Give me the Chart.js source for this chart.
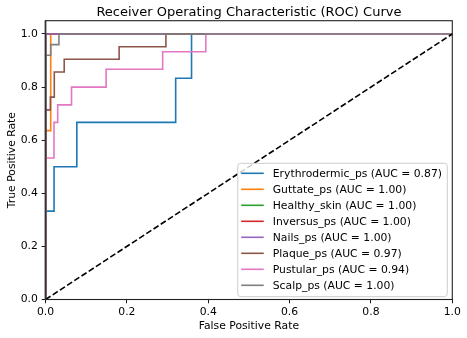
<!DOCTYPE html>
<html><head><meta charset="utf-8">
<script src="https://cdn.jsdelivr.net/npm/chart.js@4.4.0/dist/chart.umd.min.js"></script>
<style>html,body{margin:0;padding:0;background:#fff;}#wrap{width:467px;height:338px;}</style>
</head><body><div id="wrap"><canvas id="c" width="467" height="338"></canvas></div>
<script>
const classNames = ['Erythrodermic_ps','Guttate_ps','Healthy_skin','Inversus_ps','Nails_ps','Plaque_ps','Pustular_ps','Scalp_ps'];
const aucValues = [0.87, 1.00, 1.00, 1.00, 1.00, 0.97, 0.94, 1.00];
const seriesColors = ['#1f77b4','#ff7f0e','#2ca02c','#d62728','#9467bd','#8c564b','#e377c2','#7f7f7f'];

const fprErythrodermic = [0, 0, 0.021, 0.021, 0.077, 0.077, 0.32, 0.32, 0.359, 0.359, 1];
const tprErythrodermic = [0, 0.333, 0.333, 0.5, 0.5, 0.667, 0.667, 0.833, 0.833, 1, 1];
const fprGuttate = [0, 0, 0.0128, 0.0128, 1];
const tprGuttate = [0, 0.636, 0.636, 1, 1];
const fprHealthy = [0, 0, 1];
const tprHealthy = [0, 1, 1];
const fprInversus = [0, 0, 1];
const tprInversus = [0, 1, 1];
const fprNails = [0, 0, 1];
const tprNails = [0, 1, 1];
const fprPlaque = [0, 0, 0.012, 0.012, 0.0216, 0.0216, 0.046, 0.046, 0.181, 0.181, 0.296, 0.296, 1];
const tprPlaque = [0, 0.714, 0.714, 0.762, 0.762, 0.857, 0.857, 0.905, 0.905, 0.952, 0.952, 1, 1];
const fprPustular = [0, 0, 0.0209, 0.0209, 0.030, 0.030, 0.064, 0.064, 0.149, 0.149, 0.288, 0.288, 0.394, 0.394, 1];
const tprPustular = [0, 0.533, 0.533, 0.667, 0.667, 0.733, 0.733, 0.8, 0.8, 0.867, 0.867, 0.933, 0.933, 1, 1];
const fprScalp = [0, 0, 0.0128, 0.0128, 0.033, 0.033, 1];
const tprScalp = [0, 0.92, 0.92, 0.96, 0.96, 1, 1];
const chanceX = [0, 1];
const chanceY = [0, 1];

const xTicks = [0, 0.2, 0.4, 0.6, 0.8, 1.0];
const yTicks = [0, 0.2, 0.4, 0.6, 0.8, 1.0];

const allFpr = [fprErythrodermic, fprGuttate, fprHealthy, fprInversus, fprNails, fprPlaque, fprPustular, fprScalp];
const allTpr = [tprErythrodermic, tprGuttate, tprHealthy, tprInversus, tprNails, tprPlaque, tprPustular, tprScalp];

const FONT = "'DejaVu Sans', sans-serif";
const pts = (xs, ys) => xs.map((x, i) => ({x: x, y: ys[i]}));

const datasets = classNames.map((name, i) => ({
  label: name + ' (AUC = ' + aucValues[i].toFixed(2) + ')',
  data: pts(allFpr[i], allTpr[i]),
  borderColor: seriesColors[i],
  backgroundColor: seriesColors[i],
  borderWidth: 1.6,
  showLine: true,
  pointRadius: 0,
  fill: false,
  tension: 0,
  clip: 0,
  order: classNames.length - i
}));
datasets.push({
  label: 'chance',
  data: pts(chanceX, chanceY),
  borderColor: '#000',
  borderWidth: 1.6,
  borderDash: [6, 2.6],
  showLine: true,
  pointRadius: 0,
  fill: false,
  clip: 0,
  order: -1
});

const framePlugin = {
  id: 'frame',
  afterDatasetsDraw(chart) {
    const {ctx, chartArea: a} = chart;
    ctx.save();
    ctx.strokeStyle = '#222';
    ctx.lineWidth = 1.1;
    ctx.strokeRect(a.left, a.top, a.right - a.left, a.bottom - a.top);
    ctx.beginPath();
    ctx.lineWidth = 1.7;
    ctx.strokeStyle = '#333';
    ctx.moveTo(a.left, a.top);
    ctx.lineTo(a.left, a.bottom);
    ctx.stroke();
    ctx.restore();
  }
};

const titlePlugin = {
  id: 'mplTitle',
  afterDraw(chart) {
    const {ctx, chartArea: a} = chart;
    ctx.save();
    ctx.font = "13px " + FONT;
    ctx.fillStyle = '#000';
    ctx.textAlign = 'center';
    ctx.textBaseline = 'alphabetic';
    ctx.fillText('Receiver Operating Characteristic (ROC) Curve', (a.left + a.right) / 2, 16.3);
    ctx.restore();
  }
};

const legendPlugin = {
  id: 'mplLegend',
  afterDraw(chart) {
    const {ctx, chartArea: a} = chart;
    const items = chart.data.datasets.slice(0, classNames.length);
    ctx.save();
    ctx.font = "10.8px " + FONT;
    let maxW = 0;
    items.forEach(d => { maxW = Math.max(maxW, ctx.measureText(d.label).width); });
    const w = 35 + maxW + 5.3;
    const h = 133.4;
    const right = a.right - 5;
    const bottom = a.bottom - 2.8;
    const left = right - w, top = bottom - h;
    ctx.beginPath();
    ctx.roundRect(left, top, w, h, 3);
    ctx.fillStyle = 'rgba(255,255,255,0.8)';
    ctx.fill();
    ctx.strokeStyle = '#cccccc';
    ctx.lineWidth = 1;
    ctx.stroke();
    items.forEach((d, i) => {
      const cy = top + 10 + i * 16;
      ctx.beginPath();
      ctx.moveTo(left + 3.4, cy);
      ctx.lineTo(left + 26, cy);
      ctx.strokeStyle = d.borderColor;
      ctx.lineWidth = 1.6;
      ctx.stroke();
      ctx.fillStyle = '#000';
      ctx.textAlign = 'left';
      ctx.textBaseline = 'middle';
      ctx.fillText(d.label, left + 35, cy + 0.5);
    });
    ctx.restore();
  }
};

new Chart(document.getElementById('c'), {
  type: 'scatter',
  data: {datasets: datasets},
  options: {
    responsive: false,
    animation: false,
    devicePixelRatio: 1,
    layout: {padding: {top: 20.7, right: 14.7, left: 0, bottom: 0}},
    plugins: {legend: {display: false}, tooltip: {enabled: false}, title: {display: false}},
    scales: {
      x: {
        type: 'linear', min: 0, max: 1,
        afterBuildTicks: s => { s.ticks = xTicks.map(v => ({value: v})); },
        afterFit: s => { s.height = 38.5; },
        ticks: {callback: v => Number(v).toFixed(1), color: '#000', font: {family: FONT, size: 10.8}, padding: 2, maxRotation: 0, autoSkip: false},
        grid: {drawOnChartArea: false, drawTicks: true, tickLength: 3.8, color: '#000', lineWidth: 0.9},
        border: {display: true, color: '#000', width: 0.9},
        title: {display: true, text: 'False Positive Rate', color: '#000', font: {family: FONT, size: 10.8}, padding: {top: 0, bottom: 5.5}}
      },
      y: {
        type: 'linear', min: 0, max: 1.05,
        afterBuildTicks: s => { s.ticks = yTicks.map(v => ({value: v})); },
        afterFit: s => { s.width = 45.5; },
        ticks: {callback: v => Number(v).toFixed(1), color: '#000', font: {family: FONT, size: 10.8}, padding: 3.8, autoSkip: false},
        grid: {drawOnChartArea: false, drawTicks: true, tickLength: 3.8, color: '#000', lineWidth: 0.9},
        border: {display: true, color: '#000', width: 0.9},
        title: {display: true, text: 'True Positive Rate', color: '#000', font: {family: FONT, size: 10.8}, padding: {top: 6.2, bottom: 0}}
      }
    }
  },
  plugins: [framePlugin, titlePlugin, legendPlugin]
});
</script>
</body></html>
